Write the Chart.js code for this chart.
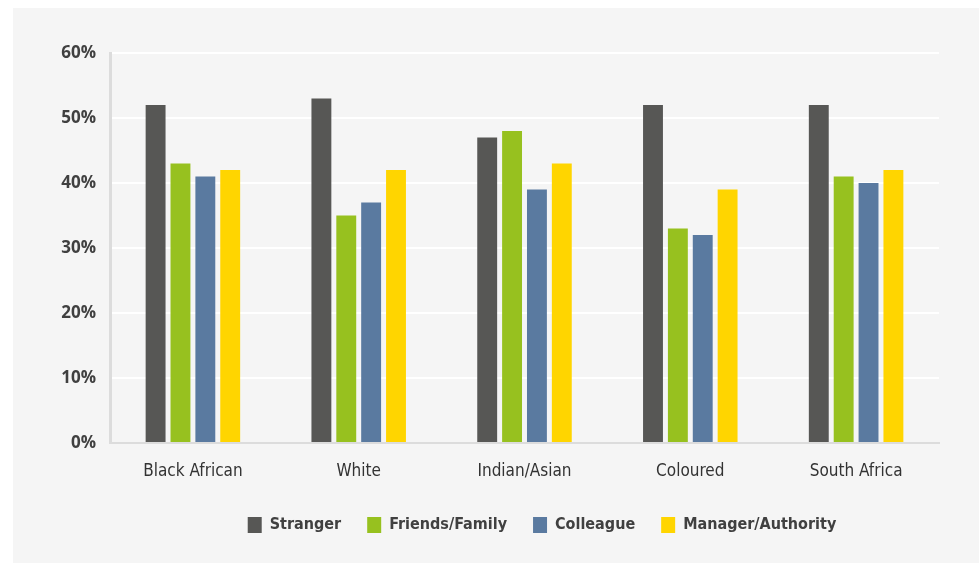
<!DOCTYPE html>
<html>
<head>
<meta charset="utf-8">
<title>Who people turn to</title>
<script src="https://cdn.jsdelivr.net/npm/chart.js@4"></script>
<style>
  html, body { margin: 0; padding: 0; background: #ffffff; }
  #panel {
    position: absolute; left: 13px; top: 8px;
    width: 966px; height: 555px; background: #f5f5f5;
  }
</style>
</head>
<body>
<div id="panel"><canvas id="myChart" width="966" height="555"></canvas></div>
<script>
// groups along the x axis
let categories = ['Black African', 'White', 'Indian/Asian', 'Coloured', 'South Africa'];

// share of respondents, in percent
let stranger = [52, 53, 47, 52, 52];
let friendsFamily = [43, 35, 48, 33, 41];
let colleague = [41, 37, 39, 32, 40];
let managerAuthority = [42, 42, 43, 39, 42];

let yTickLabels = ['0%', '10%', '20%', '30%', '40%', '50%', '60%'];

const textColor = '#404040';
const narrow = "'Liberation Sans Narrow', 'DejaVu Sans Condensed', 'Arial Narrow', sans-serif";

// nudge the legend row to the right so it sits under the plot
const legendShift = {
  id: 'legendShift',
  afterLayout(chart) {
    const lg = chart.legend;
    if (!lg) return;
    lg.left += 66;
    lg.right += 66;
  }
};

const ctx = document.getElementById('myChart');

new Chart(ctx, {
  type: 'bar',
  data: {
    labels: categories,
    datasets: [
      { label: 'Stranger', data: stranger, backgroundColor: '#575755' },
      { label: 'Friends/Family', data: friendsFamily, backgroundColor: '#97c11f' },
      { label: 'Colleague', data: colleague, backgroundColor: '#5a7aa0' },
      { label: 'Manager/Authority', data: managerAuthority, backgroundColor: '#ffd500' }
    ]
  },
  plugins: [legendShift],
  options: {
    responsive: false,
    animation: false,
    categoryPercentage: 0.6,
    barPercentage: 0.8,
    layout: { padding: { left: 0, top: 45, right: 40, bottom: 20 } },
    plugins: {
      tooltip: { enabled: false },
      legend: {
        position: 'bottom',
        labels: {
          boxWidth: 14,
          boxHeight: 16,
          padding: 26,
          color: textColor,
          font: { family: narrow, size: 16, weight: 'bold' }
        }
      }
    },
    scales: {
      x: {
        grid: { display: false, drawTicks: false },
        border: { color: '#dcdcdc', width: 2 },
        ticks: {
          padding: 18,
          color: '#333333',
          font: { family: narrow, size: 17 }
        },
        afterFit: (scale) => { scale.height = 48; }
      },
      y: {
        min: 0,
        max: 60,
        grid: { color: '#ffffff', lineWidth: 2, drawTicks: false },
        border: { color: '#dcdcdc', width: 3 },
        ticks: {
          stepSize: 10,
          padding: 14,
          color: textColor,
          font: { family: "'Open Sans', sans-serif", size: 17, weight: 'bold' },
          callback: (value, index) => yTickLabels[index]
        },
        afterFit: (scale) => { scale.width = 97; }
      }
    }
  }
});
</script>
</body>
</html>
